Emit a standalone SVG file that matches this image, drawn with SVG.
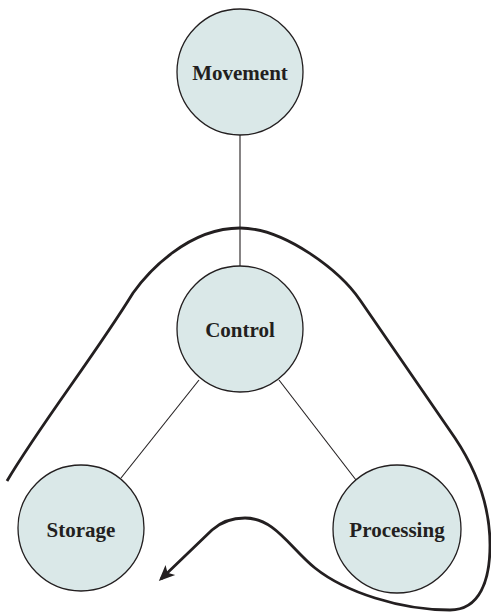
<svg xmlns="http://www.w3.org/2000/svg" width="491" height="613" viewBox="0 0 491 613">
<style>
.node circle{fill:#dae8e8;stroke:#231f20;stroke-width:1.3}
.node text{font-family:"Liberation Serif","Times New Roman",serif;font-weight:bold;font-size:21px;fill:#231f20;text-anchor:middle;dominant-baseline:central}
.link{stroke:#231f20;stroke-width:1.1;fill:none}
.flow{stroke:#231f20;stroke-width:2.8;fill:none;stroke-linejoin:round}
</style>
<defs>
<marker id="ah" markerUnits="userSpaceOnUse" markerWidth="30" markerHeight="30" viewBox="-20 -10 30 20" refX="0" refY="0" orient="auto">
<path d="M3,0 L-13,-7 L-9,0 L-13,7 Z" fill="#231f20"/>
</marker>
</defs>
<rect width="491" height="613" fill="#ffffff"/>
<g id="connectors">
<line class="link" x1="240" y1="135" x2="240" y2="266"/>
<line class="link" x1="199" y1="380" x2="121" y2="478"/>
<line class="link" x1="279" y1="380" x2="356" y2="480"/>
<path class="flow" marker-end="url(#ah)" d="M7,481 C40,425 95,355 133,293 C148,272 188,228 240,228 C285,228 340,271 360,300 L455,438 C473,465 490,500 490,545 C490,580 480,610 450,610 C400,610 345,592 315,568 C290,548 275,518 245,518 C232,518 222,521 212,530 L161,579"/>
</g>
<g id="movement" class="node"><circle cx="240" cy="72" r="63"/><text x="240" y="73">Movement</text></g>
<g id="control" class="node"><circle cx="240" cy="329" r="63"/><text x="240" y="330">Control</text></g>
<g id="storage" class="node"><circle cx="81" cy="528" r="63"/><text x="81" y="530">Storage</text></g>
<g id="processing" class="node"><circle cx="397" cy="529" r="64"/><text x="397" y="530">Processing</text></g>
</svg>
